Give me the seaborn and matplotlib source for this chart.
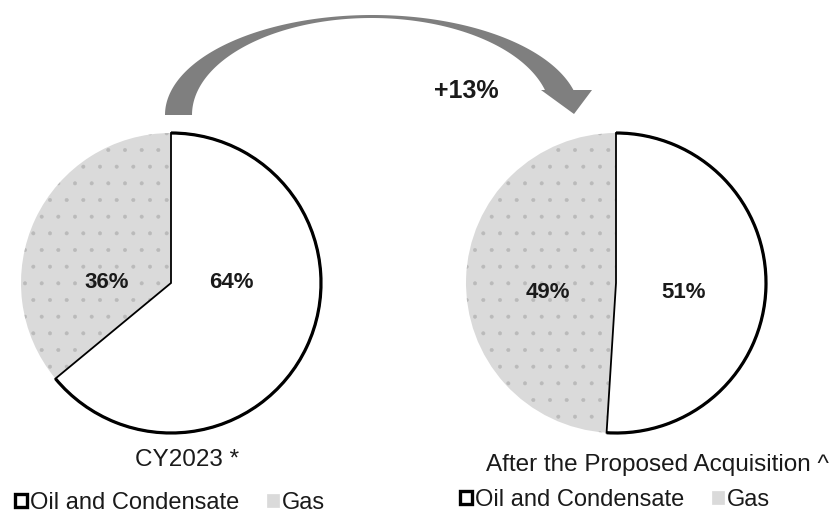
import numpy as np
import matplotlib
matplotlib.use("Agg")
import matplotlib.pyplot as plt
from matplotlib.patches import Arc, Patch, Polygon
import seaborn as sns

# Production mix (% of total)
categories = ["Oil and Condensate", "Gas"]
cy2023 = [64, 36]
after_acq = [51, 49]
captions = ["CY2023 *", "After the Proposed Acquisition ^"]
change_label = "+13%"

sns.set_theme(style="white")
plt.rcParams["font.family"] = ["Liberation Sans", "DejaVu Sans"]
plt.rcParams["hatch.linewidth"] = 0.4

W, H = 830, 515
gas_face = "#dadada"
gas_dots = "#bababa"
oil_face = "white"
text_color = "#1a1a1a"

fig = plt.figure(figsize=(W / 100, H / 100), dpi=100)
ax = fig.add_axes([0, 0, 1, 1])


def Y(y):
    """Pixel row (from top) to axis y (from bottom)."""
    return H - y


def draw_pie(values, cx, cy, r, label_pos):
    wedges, _ = ax.pie(values, startangle=90, counterclock=False,
                       center=(cx, Y(cy)), radius=r,
                       colors=[oil_face, gas_face],
                       wedgeprops=dict(linewidth=1.3, edgecolor="black"))
    oil, gas = wedges
    gas.set_edgecolor(gas_dots)
    gas.set_linewidth(0)
    gas.set_hatch(".")
    oil.set_zorder(3)
    # heavy outline on the oil slice's rim
    ax.add_patch(Arc(oil.center, 2 * oil.r, 2 * oil.r, theta1=oil.theta1,
                     theta2=oil.theta2, lw=2.3, color="black", zorder=4))
    for v, (lx, ly) in zip(values, label_pos):
        ax.text(lx, Y(ly), f"{v}%", ha="center", va="center",
                fontsize=16, fontweight="bold", color=text_color, zorder=5)


draw_pie(cy2023, 171, 283, 150, [(231, 283), (107, 283)])
draw_pie(after_acq, 616, 283, 150, [(684, 293), (548, 293)])

# curved arrow between the two pies
t_out = np.linspace(np.pi, np.arcsin(0.25), 200)
t_in = np.linspace(np.arcsin(0.2577), np.pi, 200)
outer = np.column_stack([372.5 + 207.5 * np.cos(t_out), Y(115 - 100 * np.sin(t_out))])
inner = np.column_stack([371.5 + 179.5 * np.cos(t_in), Y(115 - 97 * np.sin(t_in))])
head = np.array([[592, Y(90)], [574, Y(114)], [541, Y(90)]])
ax.add_patch(Polygon(np.vstack([outer, head, inner]), closed=True,
                     facecolor="#7f7f7f", edgecolor="none", zorder=2))
ax.text(466, Y(91), change_label, ha="center", va="center",
        fontsize=18, fontweight="bold", color=text_color)

# captions
ax.text(187, Y(460), captions[0], ha="center", va="center", fontsize=17.5, color=text_color)
ax.text(657, Y(465), captions[1], ha="center", va="center", fontsize=17.5, color=text_color)

# legends
handles = [Patch(facecolor="white", edgecolor="black", linewidth=2.4),
           Patch(facecolor=gas_face, edgecolor=gas_face, linewidth=0.5)]
legend_kw = dict(ncol=2, frameon=False, fontsize=17, handlelength=0.5,
                 handleheight=0.5, handletextpad=0.15, columnspacing=1.15,
                 borderpad=0, borderaxespad=0, loc="center left")
leg1 = ax.legend(handles, categories, bbox_to_anchor=(15 / W, 1 - 503 / H), **legend_kw)
ax.add_artist(leg1)
ax.legend(handles, categories, bbox_to_anchor=(460 / W, 1 - 500 / H), **legend_kw)
for leg in ax.get_legend(), leg1:
    for t in leg.get_texts():
        t.set_color(text_color)

ax.set_xlim(0, W)
ax.set_ylim(0, H)
ax.set_aspect("equal")
ax.axis("off")

fig.savefig("out.png", dpi=100, facecolor="white")
